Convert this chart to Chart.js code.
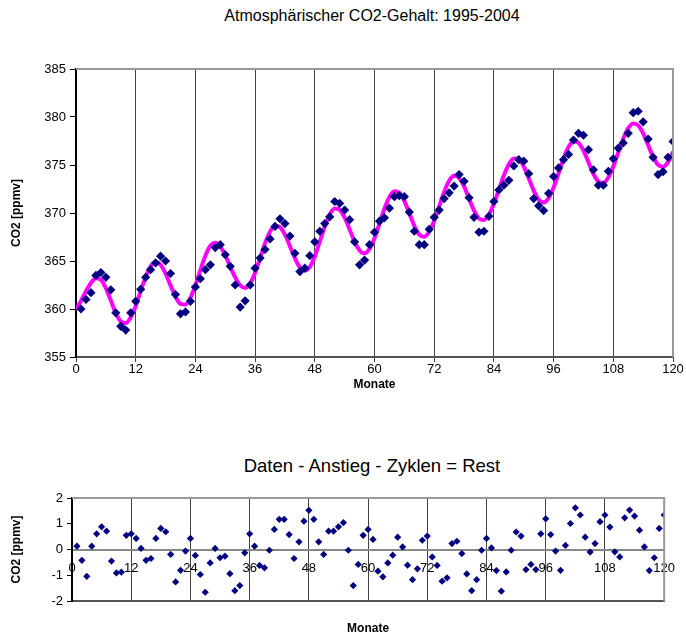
<!DOCTYPE html>
<html><head><meta charset="utf-8">
<script src="https://cdn.jsdelivr.net/npm/chart.js@4"></script>
<style>
html,body{margin:0;padding:0;background:#fff}
body{width:686px;height:637px;position:relative;overflow:hidden;font-family:"Liberation Sans",Arial,sans-serif}
.ttl{position:absolute;left:172px;width:400px;text-align:center;color:#000;white-space:nowrap;line-height:1.15}
#t1{top:7px;font-size:16px}
#t2{top:455px;font-size:18.5px}
#c1{position:absolute;left:0;top:0}
#c2{position:absolute;left:0;top:400px}
</style></head>
<body>
<div class="ttl" id="t1">Atmosphärischer CO2-Gehalt: 1995-2004</div>
<div class="ttl" id="t2">Daten - Anstieg - Zyklen = Rest</div>
<canvas id="c1" width="686" height="400"></canvas>
<canvas id="c2" width="686" height="237"></canvas>
<script>
// ---- data ----
const topTitle = "Atmosphärischer CO2-Gehalt: 1995-2004";
const bottomTitle = "Daten - Anstieg - Zyklen = Rest";
const xTitle = "Monate";
const yTitle = "CO2 [ppmv]";
const xTicks = [0, 12, 24, 36, 48, 60, 72, 84, 96, 108, 120];
const yTicksTop = [355, 360, 365, 370, 375, 380, 385];
const yTicksBottom = [-2, -1, 0, 1, 2];

// measured monthly CO2 (months 1..120)
const co2Measured = [
 360.0,361.0,361.7,363.5,363.8,363.3,362.0,359.6,358.2,357.8,359.6,360.8,
 362.05,363.3,364.1,364.8,365.5,365.0,363.7,361.5,359.5,359.7,360.8,362.3,
 363.15,364.1,364.6,366.4,366.7,365.65,364.45,362.5,360.2,360.85,362.5,364.25,
 365.3,366.2,367.3,368.6,369.4,368.9,367.6,365.8,363.9,364.25,365.55,367.0,
 368.1,368.9,369.6,371.2,371.0,370.3,369.3,367.0,364.6,365.1,366.7,368.0,
 369.15,369.5,370.5,371.7,371.8,371.7,370.1,368.1,366.7,366.7,368.3,369.55,
 370.3,371.5,372.1,372.8,374.0,373.3,371.6,369.55,368.0,368.1,369.65,371.2,
 372.4,372.9,373.4,374.9,375.55,375.4,374.1,371.5,370.75,370.25,372.05,373.8,
 374.7,375.55,376.1,377.6,378.3,378.1,376.6,374.5,372.9,372.9,374.35,375.65,
 376.75,377.3,378.3,380.45,380.6,379.5,377.7,375.8,374.0,374.3,375.8,377.45
];
// fitted curve (trend + cycles), months 0..120
const co2Fit = [
 359.95,360.85,361.85,362.7,363.2,363.05,362.18,360.88,359.57,358.7,358.53,359.13,
 360.32,361.86,363.34,364.45,364.9,364.61,363.7,362.46,361.28,360.53,360.46,361.16,
 362.46,364.06,365.55,366.58,366.9,366.52,365.62,364.42,363.29,362.46,362.2,362.66,
 363.77,365.29,366.85,368.06,368.66,368.53,367.74,366.54,365.29,364.34,364.0,364.39,
 365.48,367.01,368.59,369.85,370.46,370.32,369.51,368.28,367.01,366.1,365.8,366.26,
 367.37,368.89,370.45,371.66,372.26,372.11,371.26,369.97,368.66,367.75,367.52,368.04,
 369.2,370.7,372.2,373.36,373.88,373.66,372.78,371.51,370.26,369.43,369.28,369.84,
 370.97,372.43,373.91,375.08,375.69,375.62,374.84,373.62,372.34,371.41,371.1,371.55,
 372.65,374.14,375.68,376.87,377.47,377.32,376.51,375.3,374.09,373.28,373.13,373.7,
 374.84,376.3,377.74,378.84,379.33,379.12,378.29,377.08,375.86,375.02,374.81,375.29,
 376.38
];
// residuals (months 1..120)
const residual = [
 0.13,-0.42,-1.04,0.13,0.61,0.88,0.71,-0.45,-0.91,-0.88,0.55,0.61,
 0.43,0.04,-0.42,-0.35,0.43,0.82,0.69,-0.19,-1.26,-0.81,-0.06,0.43,
 -0.23,-0.97,-1.66,-0.52,0.04,-0.32,-0.26,-0.94,-1.6,-1.4,-0.13,0.61,
 0.13,-0.62,-0.71,-0.03,0.78,1.17,1.17,0.58,-0.35,0.3,1.1,1.52,
 1.17,0.3,-0.19,0.71,0.71,0.88,1.04,-0.03,-1.4,-0.58,0.55,0.78,
 0.39,-0.84,-1.06,-0.52,-0.22,0.48,0.1,-0.61,-1.17,-0.75,0.36,0.52,
 -0.29,-0.62,-1.23,-1.1,0.23,0.32,-0.16,-0.95,-1.6,-1.17,-0.03,0.43,
 0.06,-0.82,-1.62,-0.87,-0.03,0.68,0.52,-0.78,-0.58,-0.78,0.61,1.19,
 0.58,-0.06,-0.81,0.16,1.01,1.62,1.34,0.48,-0.1,0.23,1.08,1.34,
 0.87,-0.09,-0.29,1.23,1.53,1.3,0.75,0.1,-0.82,-0.32,0.82,1.34
];

// ---- build ----
const measuredPts = co2Measured.map((v, i) => ({x: i + 1, y: v}));
const fitPts = co2Fit.map((v, i) => ({x: i, y: v}));
const residPts = residual.map((v, i) => ({x: i + 1, y: v}));

Chart.defaults.font.family = "'Liberation Sans', Arial, sans-serif";
Chart.defaults.color = '#000';

const frame = {
  id: 'frame',
  afterDatasetsDraw(chart) {
    const a = chart.chartArea, c = chart.ctx;
    c.save();
    c.strokeStyle = '#999';
    c.lineWidth = 2;
    c.beginPath();
    c.moveTo(a.left, a.top); c.lineTo(a.right, a.top); c.lineTo(a.right, a.bottom);
    c.stroke();
    c.restore();
  }
};

const tickFont = {size: 13};
const titleFont = {size: 12, weight: 'bold'};

new Chart(document.getElementById('c1'), {
  type: 'scatter',
  data: {datasets: [
    {type: 'line', data: fitPts, borderColor: '#FF00FF', borderWidth: 4, pointRadius: 0,
     tension: 0.4, cubicInterpolationMode: 'monotone', fill: false, order: 2},
    {data: measuredPts, pointStyle: 'rectRot', pointRadius: 4.6, backgroundColor: '#000080',
     borderWidth: 0, order: 1}
  ]},
  options: {
    responsive: false, animation: false, devicePixelRatio: 1,
    layout: {padding: {top: 69, right: 13, left: 0, bottom: 0}},
    plugins: {legend: {display: false}, tooltip: {enabled: false}, title: {display: false}},
    scales: {
      x: {type: 'linear', min: 0, max: 120,
        afterBuildTicks: s => { s.ticks = xTicks.map(v => ({value: v})); },
        ticks: {font: tickFont, padding: 0, maxRotation: 0, autoSkip: false},
        grid: {color: '#444', lineWidth: 1, drawTicks: true, tickLength: 5, tickColor: '#444'},
        border: {color: '#555', width: 2},
        title: {display: true, text: xTitle, font: titleFont, padding: {top: 0, bottom: 8.2}},
        afterFit: s => { s.height = 43; }
      },
      y: {min: 355, max: 385,
        afterBuildTicks: s => { s.ticks = yTicksTop.map(v => ({value: v})); },
        ticks: {font: tickFont, padding: 4},
        grid: {drawOnChartArea: false, drawTicks: true, tickLength: 6, tickColor: '#000'},
        border: {color: '#000', width: 2},
        title: {display: true, text: yTitle, font: titleFont, padding: {top: 9.8, bottom: 0}},
        afterFit: s => { s.width = 76; }
      }
    }
  },
  plugins: [frame]
});

new Chart(document.getElementById('c2'), {
  type: 'scatter',
  data: {datasets: [
    {data: residPts, xAxisID: 'x', yAxisID: 'y', pointStyle: 'rectRot', pointRadius: 3.6,
     backgroundColor: '#000080', borderWidth: 0}
  ]},
  options: {
    responsive: false, animation: false, devicePixelRatio: 1,
    layout: {padding: {top: 98, right: 14, left: 0, bottom: 0}},
    plugins: {legend: {display: false}, tooltip: {enabled: false}, title: {display: false}},
    scales: {
      x: {type: 'linear', min: 0, max: 120, position: {y: 0},
        afterBuildTicks: s => { s.ticks = xTicks.map(v => ({value: v})); },
        ticks: {font: tickFont, padding: 11, maxRotation: 0, autoSkip: false},
        grid: {color: '#444', lineWidth: 1, drawTicks: false},
        border: {color: '#888', width: 2}
      },
      x2: {type: 'linear', min: 0, max: 120, position: 'bottom',
        ticks: {display: false},
        grid: {drawOnChartArea: false, drawTicks: false},
        border: {color: '#555', width: 2},
        title: {display: true, text: xTitle, font: titleFont, padding: {top: 0, bottom: 1.6}},
        afterFit: s => { s.height = 36; }
      },
      y: {min: -2, max: 2,
        afterBuildTicks: s => { s.ticks = yTicksBottom.map(v => ({value: v})); },
        ticks: {font: tickFont, padding: 4},
        grid: {drawOnChartArea: false, drawTicks: true, tickLength: 5, tickColor: '#000'},
        border: {color: '#000', width: 2},
        title: {display: true, text: yTitle, font: titleFont, padding: {top: 9.8, bottom: 0}},
        afterFit: s => { s.width = 72; }
      }
    }
  },
  plugins: [frame]
});
</script>
</body></html>
